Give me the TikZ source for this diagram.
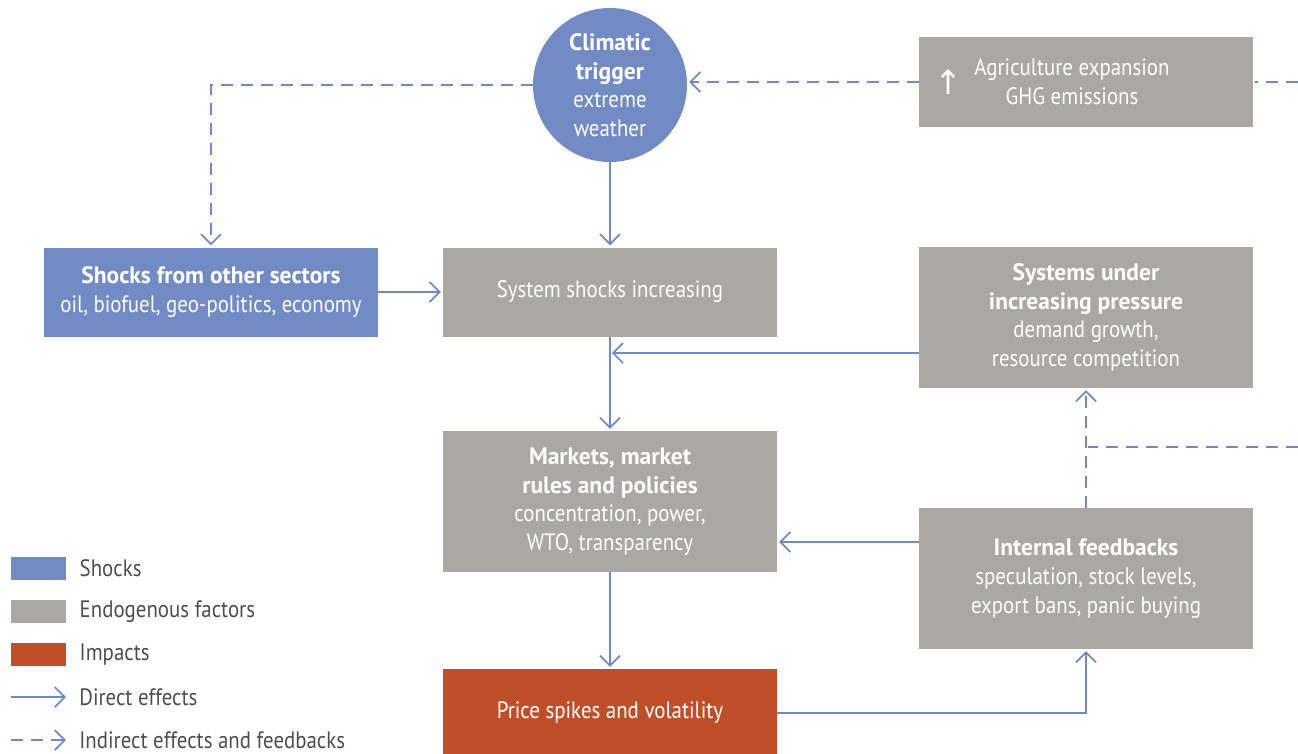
\documentclass[tikz,border=0pt]{standalone}
\usepackage{fontspec}
\setmainfont[UprightFeatures={FakeStretch=0.88},BoldFeatures={FakeStretch=0.99}]{PT Sans}
\newfontfamily\arrowfont{DejaVu Sans}
\usetikzlibrary{arrows.meta}

\definecolor{shockblue}{RGB}{114,139,196}
\definecolor{endogray}{RGB}{171,167,163}
\definecolor{impactred}{RGB}{191,79,40}
\definecolor{linkblue}{RGB}{112,137,198}
\definecolor{keytext}{RGB}{77,77,77}

\begin{document}
\begin{tikzpicture}[->,>={Straight Barb[length=0.2cm,width=0.4cm]},shorten >=1pt,
  node distance=4.19cm,font=\fontsize{13.5}{16.3}\selectfont,
  box/.style={rectangle,text=white,align=center,inner sep=0pt,minimum width=6.68cm},
  shock node/.style={box,fill=shockblue},
  endo node/.style={box,fill=endogray},
  impact node/.style={box,fill=impactred},
  direct/.style={draw=linkblue,line width=1pt},
  indirect/.style={direct,dash pattern=on 0.24cm off 0.16cm},
  key/.style={rectangle,inner sep=0pt,minimum width=1.1cm,minimum height=0.46cm},
  key text/.style={text=keytext,anchor=west,inner sep=0pt}]
  \useasboundingbox (0,0) rectangle (25.96,-15.06);
  \node[circle,fill=shockblue,text=white,align=center,inner sep=0pt,minimum size=3.08cm] (1) at (12.2,-1.7)
    {\textbf{Climatic}\\\textbf{trigger}\\extreme\\weather};
  \node[endo node,minimum height=1.78cm,node distance=4.14cm] (2) [below of=1] {System shocks increasing};
  \node[shock node,minimum height=1.78cm,node distance=7.98cm] (3) [left of=2]
    {\textbf{Shocks from other sectors}\\oil, biofuel, geo-politics, economy};
  \node[endo node,minimum height=2.82cm] (4) [below of=2]
    {\textbf{Markets, market}\\\textbf{rules and policies}\\concentration, power,\\WTO, transparency};
  \node[impact node,minimum height=1.76cm,node distance=4.23cm] (5) [below of=4] {Price spikes and volatility};
  \node[endo node,minimum height=1.8cm,node distance=9.52cm,yshift=0.06cm] (6) [right of=1]
    {Agriculture expansion\hspace*{0.56cm}\\GHG emissions\hspace*{0.56cm}};
  \node[text=white,inner sep=0pt,node distance=2.76cm,font=\fontsize{19}{19}\selectfont] (7) [left of=6] {\arrowfont ↑};
  \node[endo node,minimum height=2.82cm,node distance=9.52cm,yshift=-0.51cm] (8) [right of=2]
    {\textbf{Systems under}\\\textbf{increasing pressure}\\demand growth,\\resource competition};
  \node[endo node,minimum height=2.82cm,node distance=9.52cm,yshift=-1.54cm] (9) [right of=4]
    {\textbf{Internal feedbacks}\\speculation, stock levels,\\export bans, panic buying};

  % free ends
  \coordinate (r1) at (25.96,-1.64);
  \coordinate (r2) at (25.96,-8.94);
  \coordinate (p) at ([yshift=-0.71cm]8.west);
  \coordinate (q) at ([yshift=0.73cm]9.west);

  \path[direct]
    (1) edge (2)
    (3) edge (2)
    (2) edge (4)
    (4) edge (5);
  \draw[direct] (p) -- (p -| 2.south);
  \draw[direct] (q) -- (q -| 4.east);
  \draw[direct] (5.east) -| (9.south);
  \draw[indirect,-] (r1) -- (6.east);
  \draw[indirect] (6.west) -- (6.west -| 1.east);
  \draw[indirect] (1.west) -| (3.north);
  \draw[indirect] (9.north) -- (8.south);
  \draw[indirect,-] (r2) -- (r2 -| 9.north);

  % legend
  \node[key,fill=shockblue] (k1) at (0.77,-11.37) {};
  \node[key,fill=endogray,node distance=0.86cm] (k2) [below of=k1] {};
  \node[key,fill=impactred,node distance=0.86cm] (k3) [below of=k2] {};
  \node[key text] (t1) at ([xshift=0.26cm]k1.east) {Shocks};
  \node[key text] (t2) at ([xshift=0.26cm]k2.east) {Endogenous factors};
  \node[key text] (t3) at ([xshift=0.26cm]k3.east) {Impacts};
  \coordinate (a1) at (0.22,-13.94);
  \coordinate (a2) at (0.22,-14.8);
  \node[key text] (t4) at ([xshift=1.36cm]a1) {Direct effects};
  \node[key text] (t5) at ([xshift=1.36cm]a2) {Indirect effects and feedbacks};
  \draw[direct,shorten >=0.26cm] (a1) -- (t4);
  \draw[indirect,shorten >=0.26cm] (a2) -- (t5);
\end{tikzpicture}
\end{document}
